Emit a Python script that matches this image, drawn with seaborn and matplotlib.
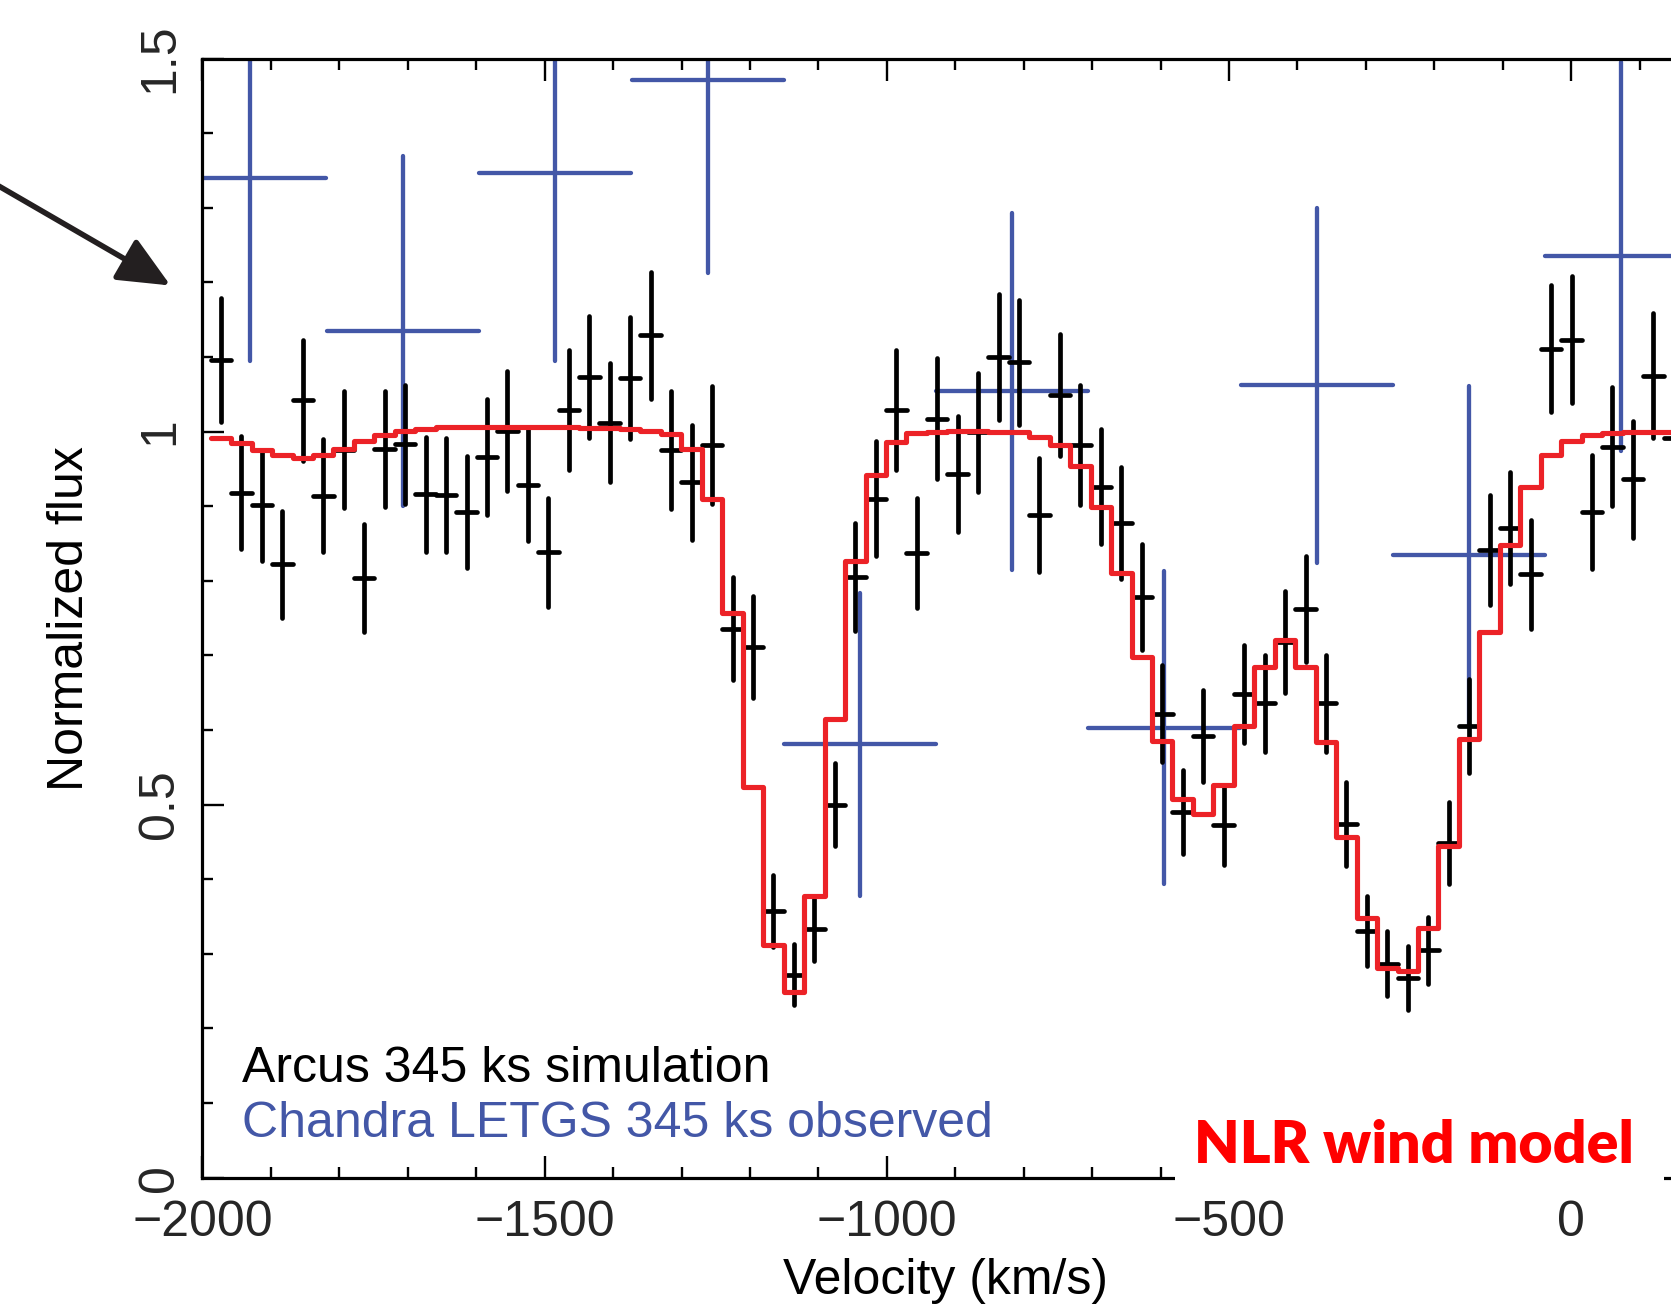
import numpy as np
import pandas as pd
import matplotlib
matplotlib.use("Agg")
import matplotlib.pyplot as plt
from matplotlib.patches import Rectangle
from matplotlib.ticker import FixedLocator, MultipleLocator
import seaborn as sns

# ---------------------------------------------------------------------------
# Arcus 345 ks simulation: bin centres (km/s), normalized flux and 1-sigma errors
arcus_vel = [
    -1973.0, -1943.1, -1913.2, -1883.3, -1853.4, -1823.5, -1793.6, -1763.7,
    -1733.8, -1703.9, -1674.0, -1644.1, -1614.2, -1584.3, -1554.4, -1524.5,
    -1494.6, -1464.7, -1434.8, -1404.9, -1375.0, -1345.1, -1315.2, -1285.3,
    -1255.4, -1225.5, -1195.6, -1165.7, -1135.8, -1105.9, -1076.0, -1046.1,
    -1016.2, -986.3, -956.4, -926.5, -896.6, -866.7, -836.8, -806.9,
    -777.0, -747.1, -717.2, -687.3, -657.4, -627.5, -597.6, -567.7,
    -537.8, -507.9, -478.0, -448.1, -418.2, -388.3, -358.4, -328.5,
    -298.6, -268.7, -238.8, -208.9, -179.0, -149.1, -119.2, -89.3,
    -59.4, -29.5, 0.4, 30.3, 60.2, 90.1, 120.0, 149.9,
]
arcus_flux = [
    1.096, 0.918, 0.901, 0.822, 1.042, 0.914, 0.976, 0.804, 0.977, 0.983,
    0.916, 0.915, 0.892, 0.966, 1.001, 0.929, 0.838, 1.029, 1.073, 1.012,
    1.072, 1.129, 0.975, 0.932, 0.982, 0.736, 0.711, 0.357, 0.272, 0.333,
    0.500, 0.805, 0.910, 1.029, 0.837, 1.017, 0.943, 0.999, 1.100, 1.093,
    0.888, 1.049, 0.982, 0.926, 0.878, 0.778, 0.622, 0.490, 0.592, 0.472,
    0.648, 0.636, 0.718, 0.762, 0.636, 0.474, 0.330, 0.287, 0.268, 0.305,
    0.449, 0.606, 0.841, 0.871, 0.809, 1.111, 1.123, 0.892, 0.980, 0.936,
    1.075, 0.992,
]
arcus_err = [
    0.083, 0.076, 0.074, 0.072, 0.081, 0.076, 0.078, 0.072, 0.078, 0.080,
    0.077, 0.077, 0.075, 0.078, 0.080, 0.075, 0.073, 0.081, 0.082, 0.080,
    0.082, 0.085, 0.079, 0.077, 0.079, 0.069, 0.068, 0.048, 0.041, 0.043,
    0.056, 0.072, 0.077, 0.081, 0.074, 0.081, 0.078, 0.080, 0.084, 0.084,
    0.076, 0.082, 0.080, 0.077, 0.075, 0.071, 0.065, 0.056, 0.062, 0.053,
    0.066, 0.065, 0.068, 0.071, 0.065, 0.056, 0.047, 0.044, 0.043, 0.045,
    0.055, 0.063, 0.074, 0.075, 0.073, 0.085, 0.085, 0.076, 0.080, 0.078,
    0.084, 0.080,
]
ARCUS_HALF_BIN = 15.0

# NLR wind model, evaluated on the Arcus bins
model_flux = [
    0.991, 0.985, 0.976, 0.968, 0.965, 0.969, 0.977, 0.987, 0.995, 1.001,
    1.004, 1.006, 1.006, 1.006, 1.006, 1.006, 1.006, 1.006, 1.005, 1.005,
    1.004, 1.001, 0.997, 0.977, 0.910, 0.757, 0.523, 0.312, 0.249, 0.378,
    0.615, 0.826, 0.942, 0.986, 0.998, 1.000, 1.001, 1.001, 1.000, 0.999,
    0.993, 0.982, 0.954, 0.899, 0.810, 0.698, 0.585, 0.508, 0.487, 0.526,
    0.605, 0.684, 0.721, 0.684, 0.584, 0.457, 0.348, 0.281, 0.277, 0.335,
    0.445, 0.588, 0.731, 0.848, 0.926, 0.968, 0.988, 0.995, 0.998, 0.999,
    0.999, 0.999,
]

# Chandra LETGS 345 ks observation
chandra_vel = [-1930, -1707, -1485, -1262, -1039, -817, -595, -372, -149, 73]
chandra_flux = [1.340, 1.135, 1.346, 1.471, 0.581, 1.054, 0.603, 1.062, 0.834, 1.235]
chandra_err = [0.246, 0.235, 0.251, 0.259, 0.203, 0.239, 0.210, 0.238, 0.227, 0.261]
CHANDRA_HALF_BIN = 111.0

x_ticks = [-2000, -1500, -1000, -500, 0]
y_ticks = [0, 0.5, 1, 1.5]
y_tick_labels = ["0", "0.5", "1", "1.5"]

# ---------------------------------------------------------------------------
sns.set_theme(style="ticks")
plt.rcParams["font.family"] = ["Liberation Sans", "DejaVu Sans"]
plt.rcParams["axes.unicode_minus"] = True

BLUE = "#4357A7"
RED = "#EC2227"
FS = 36

fig = plt.figure(figsize=(16.71, 13.09), dpi=100)
ax = fig.add_axes([0.12118, 0.10038, 0.88875, 0.85485])
ax.set_facecolor("white")

eb_c = ax.errorbar(chandra_vel, chandra_flux, xerr=CHANDRA_HALF_BIN, yerr=chandra_err,
                   fmt="none", ecolor=BLUE, elinewidth=3.1, capsize=0, zorder=2)
eb_a = ax.errorbar(arcus_vel, arcus_flux, xerr=ARCUS_HALF_BIN, yerr=arcus_err,
                   fmt="none", ecolor="black", elinewidth=3.4, capsize=0, zorder=3)
for eb in (eb_c, eb_a):
    for coll in eb.lines[2]:
        coll.set_capstyle("round")

# model as a histogram-style step line over the bin edges
edges = np.append(np.asarray(arcus_vel) - ARCUS_HALF_BIN, arcus_vel[-1] + ARCUS_HALF_BIN)
steps = np.append(model_flux, model_flux[-1])
df_model = pd.DataFrame({"velocity": edges, "flux": steps})
sns.lineplot(data=df_model, x="velocity", y="flux", drawstyle="steps-post",
             color=RED, lw=3.7, ax=ax, zorder=4, legend=False,
             estimator=None, sort=False)

ax.set_xlim(-2000, 170)
ax.set_ylim(0, 1.5)
ax.xaxis.set_major_locator(FixedLocator(x_ticks))
ax.xaxis.set_minor_locator(MultipleLocator(100))
ax.yaxis.set_major_locator(FixedLocator(y_ticks))
ax.yaxis.set_minor_locator(MultipleLocator(0.1))
ax.set_yticklabels(y_tick_labels)

ax.tick_params(which="both", direction="in", top=True, bottom=True, left=True,
               right=False, width=1.7, color="black")
ax.tick_params(which="major", length=15.5)
ax.tick_params(which="minor", length=7.8)
ax.tick_params(axis="x", labelsize=FS, pad=16)
ax.tick_params(axis="y", labelsize=FS, pad=14, labelrotation=90)
for lab in ax.get_yticklabels():
    lab.set_va("center")

for side in ("left", "bottom", "top"):
    ax.spines[side].set_linewidth(2.3)
    ax.spines[side].set_color("black")
ax.spines["right"].set_visible(False)

ax.set_xlabel("Velocity (km/s)", fontsize=FS, labelpad=9, color="black")
ax.set_ylabel("Normalized flux", fontsize=FS, labelpad=32, color="black")

ax.text(0.0268, 0.0857, "Arcus 345 ks simulation", transform=ax.transAxes,
        fontsize=FS, color="black", ha="left", va="baseline")
ax.text(0.0268, 0.0365, "Chandra LETGS 345 ks observed", transform=ax.transAxes,
        fontsize=FS, color=BLUE, ha="left", va="baseline")

# white panel behind the model label, masking the axis underneath
ax.add_patch(Rectangle((0.6548, -0.0093), 0.3293, 0.0697, transform=ax.transAxes,
                       facecolor="white", edgecolor="none", clip_on=False, zorder=10))
ax.text(0.6676, 0.0128, "NLR wind model", transform=ax.transAxes,
        fontsize=42.5, fontweight="heavy", family=["Lato", "DejaVu Sans"],
        color="#FF0000", ha="left", va="baseline", zorder=11)

# pointer arrow entering from the left margin
ax.annotate("", xy=(170.5, 1023.5), xycoords="figure pixels",
            xytext=(-60.0, 1157.0), textcoords="figure pixels",
            arrowprops=dict(arrowstyle="-|>,head_length=1.6,head_width=0.72",
                            mutation_scale=20, color="#231F20", lw=4.0,
                            shrinkA=0, shrinkB=0),
            annotation_clip=False)

fig.savefig("out.png", dpi=100, facecolor="white")
